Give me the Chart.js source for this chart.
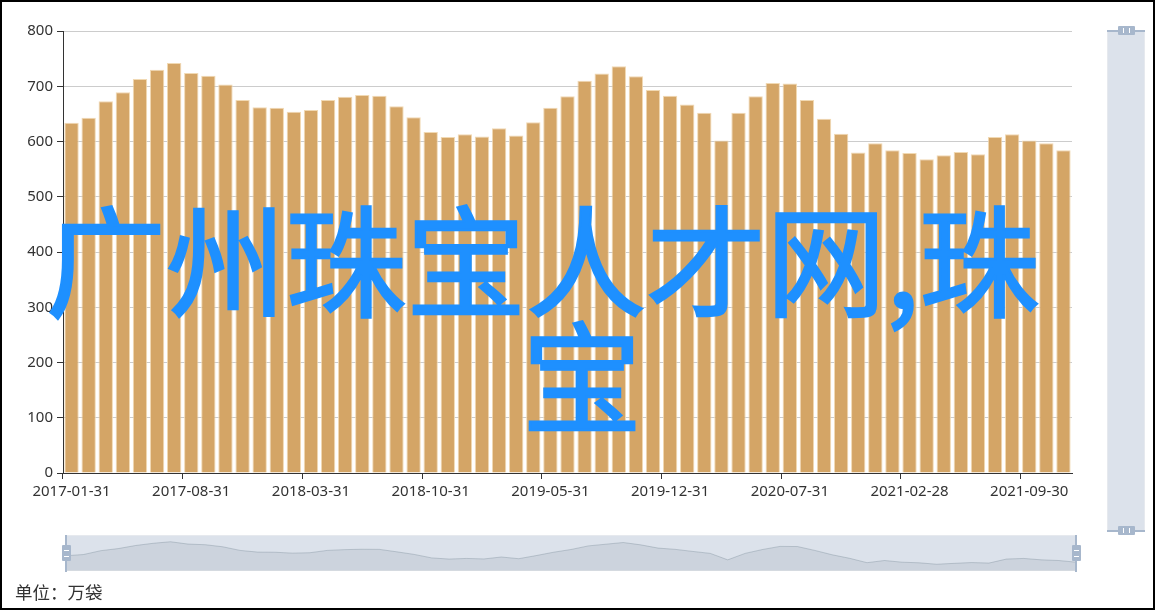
<!DOCTYPE html>
<html>
<head>
<meta charset="utf-8">
<script src="https://cdn.jsdelivr.net/npm/chart.js@4.4.1/dist/chart.umd.min.js"></script>
<style>
  html, body { margin: 0; padding: 0; background: #fff; }
  #wrap { position: relative; width: 1156px; height: 612px; overflow: hidden; }
  #frame { position: absolute; left: 0; top: 0; width: 1155px; height: 610px; box-sizing: border-box; border: 2px solid #000; pointer-events: none; z-index: 10; }
  #main { position: absolute; left: 0; top: 0; }
  .big { position: absolute; font-family: "Noto Sans CJK SC", sans-serif; font-size: 120px; line-height: 120px; font-weight: normal; -webkit-text-stroke: 2.4px #1E90FF; color: #1E90FF; white-space: nowrap; z-index: 5; }
  #unit { position: absolute; left: 15px; top: 582px; font-family: "Noto Sans CJK SC", sans-serif; font-size: 17.5px; line-height: 20px; color: #333; }
  #hz { position: absolute; left: 66px; top: 535px; width: 1010px; height: 36px; background: #dce2eb; box-sizing: border-box; border-top: 1px solid #e6e9ee; border-bottom: 1px solid #e6e9ee; }
  #hzc { position: absolute; left: 66px; top: 535px; }
  .vline { position: absolute; width: 2px; background: #a7b7cc; }
  .hline { position: absolute; height: 2px; background: #a7b7cc; }
  .hh { position: absolute; background: #a7b7cc; border-radius: 1px; }
  .wt { position: absolute; background: #fff; }
  #vz { position: absolute; left: 1107px; top: 31px; width: 38px; height: 500px; background: #dce2eb; box-sizing: border-box; border-left: 1px solid #e6e9ee; border-right: 1px solid #e6e9ee; }
</style>
</head>
<body>
<div id="wrap">
  <canvas id="main" width="1156" height="505"></canvas>
  <div id="hz"></div>
  <canvas id="hzc" width="1010" height="36"></canvas>
  <div class="vline" style="left:65px;top:535px;height:37px;"></div>
  <div class="hh" style="left:62px;top:545px;width:9px;height:16px;"></div>
  <div class="wt" style="left:64px;top:550px;width:5px;height:1px;"></div>
  <div class="wt" style="left:64px;top:556px;width:5px;height:1px;"></div>
  <div class="vline" style="left:1075px;top:535px;height:37px;"></div>
  <div class="hh" style="left:1072px;top:545px;width:9px;height:16px;"></div>
  <div class="wt" style="left:1074px;top:550px;width:5px;height:1px;"></div>
  <div class="wt" style="left:1074px;top:556px;width:5px;height:1px;"></div>
  <div id="vz"></div>
  <div class="hline" style="left:1107px;top:30px;width:38px;"></div>
  <div class="hh" style="left:1118px;top:26px;width:17px;height:9px;"></div>
  <div class="wt" style="left:1123px;top:28px;width:1px;height:5px;"></div>
  <div class="wt" style="left:1129px;top:28px;width:1px;height:5px;"></div>
  <div class="hline" style="left:1107px;top:530px;width:38px;"></div>
  <div class="hh" style="left:1118px;top:526px;width:17px;height:9px;"></div>
  <div class="wt" style="left:1123px;top:528px;width:1px;height:5px;"></div>
  <div class="wt" style="left:1129px;top:528px;width:1px;height:5px;"></div>
  <div class="big" style="left:46px;top:196px;">广州珠宝人才网,珠</div>
  <div class="big" style="left:522px;top:312px;">宝</div>
  <div id="unit">单位：万袋</div>
  <div id="frame"></div>
</div>
<script>
const categories = [
  "2017-01-31","2017-02-28","2017-03-31","2017-04-30","2017-05-31","2017-06-30","2017-07-31","2017-08-31","2017-09-30","2017-10-31","2017-11-30","2017-12-31",
  "2018-01-31","2018-02-28","2018-03-31","2018-04-30","2018-05-31","2018-06-30","2018-07-31","2018-08-31","2018-09-30","2018-10-31","2018-11-30","2018-12-31",
  "2019-01-31","2019-02-28","2019-03-31","2019-04-30","2019-05-31","2019-06-30","2019-07-31","2019-08-31","2019-09-30","2019-10-31","2019-11-30","2019-12-31",
  "2020-01-31","2020-02-29","2020-03-31","2020-04-30","2020-05-31","2020-06-30","2020-07-31","2020-08-31","2020-09-30","2020-10-31","2020-11-30","2020-12-31",
  "2021-01-31","2021-02-28","2021-03-31","2021-04-30","2021-05-31","2021-06-30","2021-07-31","2021-08-31","2021-09-30","2021-10-31","2021-11-30"
];
const values = [
  634, 643, 673, 689, 713, 730, 742, 724, 719, 703, 675, 662,
  661, 654, 657, 675, 681, 684, 683, 664, 644, 617, 608, 613,
  609, 624, 611, 635, 661, 682, 710, 723, 736, 718, 693, 683,
  667, 652, 602, 652, 682, 706, 705, 675, 641, 614, 580, 597,
  584, 579, 568, 575, 581, 577, 608, 613, 602, 597, 584
];
const yTicks = [0, 100, 200, 300, 400, 500, 600, 700, 800];
const labelEvery = 7;

const tickFont = { family: "'Noto Sans', 'Noto Sans CJK SC', sans-serif", size: 15 };

new Chart(document.getElementById('main'), {
  type: 'bar',
  data: {
    labels: categories,
    datasets: [{
      data: values,
      backgroundColor: '#d4a566',
      borderColor: 'rgba(240,215,175,0.95)',
      borderWidth: 1,
      barPercentage: 0.84,
      categoryPercentage: 1.0
    }]
  },
  options: {
    responsive: false,
    animation: false,
    devicePixelRatio: 1,
    layout: { padding: { left: 0, top: 31, right: 84, bottom: 0 } },
    plugins: { legend: { display: false }, tooltip: { enabled: false } },
    scales: {
      x: {
        type: 'category',
        offset: true,
        afterFit: s => { s.height = 32; },
        border: { display: true, color: '#333', width: 1 },
        grid: {
          offset: true,
          drawOnChartArea: false,
          drawTicks: true,
          tickLength: 6,
          color: ctx => (ctx.index % labelEvery === 0 ? '#333' : 'rgba(0,0,0,0)'),
          tickColor: ctx => (ctx.index % labelEvery === 0 ? '#333' : 'rgba(0,0,0,0)')
        },
        ticks: {
          autoSkip: false,
          maxRotation: 0,
          minRotation: 0,
          padding: 4,
          color: '#333',
          font: tickFont,
          callback: (v, i) => (i % labelEvery === 0 ? categories[i] : '')
        }
      },
      y: {
        min: yTicks[0],
        max: yTicks[yTicks.length - 1],
        afterFit: s => { s.width = 63; },
        afterBuildTicks: s => { s.ticks = yTicks.map(v => ({ value: v })); },
        border: { display: true, color: '#333', width: 1 },
        grid: { color: '#cccccc', lineWidth: 1, tickLength: 6, tickColor: '#333' },
        ticks: { padding: 4, color: '#333', font: tickFont }
      }
    }
  }
});

const vMin = Math.min(...values), vMax = Math.max(...values);
const pad = (vMax - vMin) * 0.3;
new Chart(document.getElementById('hzc'), {
  type: 'line',
  data: {
    labels: categories,
    datasets: [{
      data: values,
      borderColor: 'rgba(47,69,84,0.25)',
      borderWidth: 0.8,
      backgroundColor: 'rgba(47,69,84,0.09)',
      fill: 'start',
      pointRadius: 0,
      tension: 0
    }]
  },
  options: {
    responsive: false,
    animation: false,
    devicePixelRatio: 1,
    layout: { padding: 0 },
    plugins: { legend: { display: false }, tooltip: { enabled: false } },
    scales: {
      x: { display: false, offset: false },
      y: { display: false, min: vMin - pad, max: vMax + pad }
    }
  }
});
</script>
</body>
</html>
